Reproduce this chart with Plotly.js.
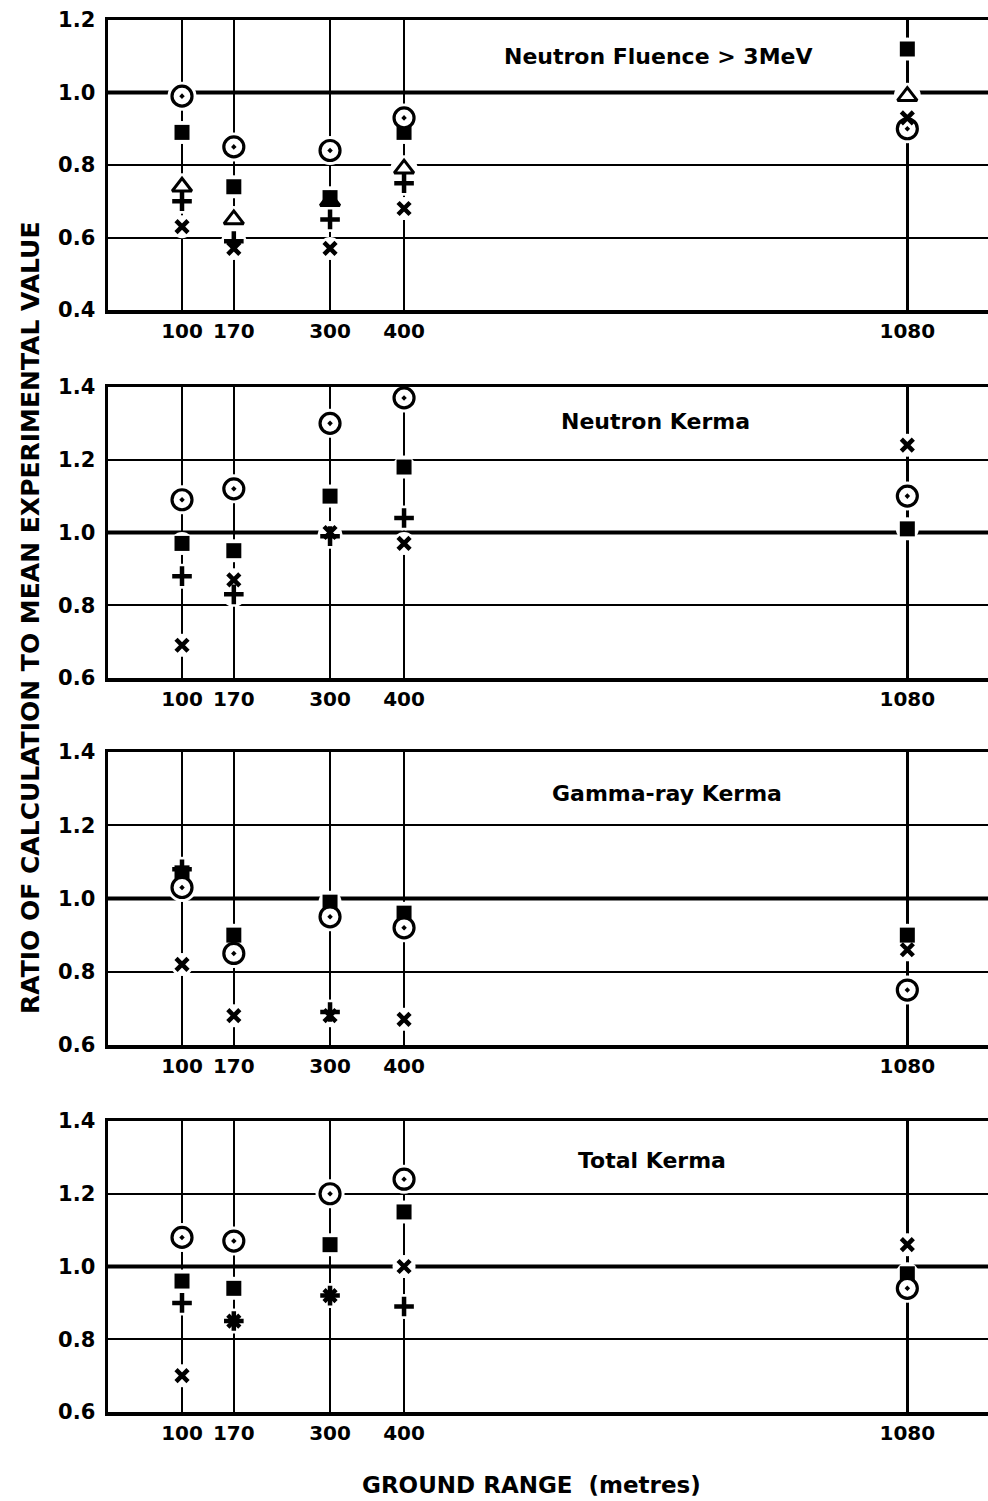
<!DOCTYPE html>
<html>
<head>
<meta charset="utf-8">
<script src="https://cdn.plot.ly/plotly-3.0.1.min.js"></script>
<style>html,body{margin:0;padding:0;background:#fff;}#chart{width:988px;height:1501px;}</style>
</head>
<body>
<div id="chart"></div>
<script>
// Ground range positions (metres)
const groundRange = [100, 170, 300, 400, 1080];
const groundRangeLabels = ['100', '170', '300', '400', '1080'];

const panelTitles = ['Neutron Fluence &gt; 3MeV', 'Neutron Kerma', 'Gamma-ray Kerma', 'Total Kerma'];

// Panel 1: Neutron fluence > 3 MeV
const fluenceCircle   = [0.99, 0.85, 0.84, 0.93, 0.90];
const fluenceSquare   = [0.89, 0.74, 0.71, 0.89, 1.12];
const fluenceTriangle = [0.74, 0.65, 0.70, 0.79, 0.99];
const fluencePlus     = [0.70, 0.59, 0.65, 0.75, null];
const fluenceCross    = [0.63, 0.57, 0.57, 0.68, 0.93];

// Panel 2: Neutron kerma
const nKermaCircle = [1.09, 1.12, 1.30, 1.37, 1.10];
const nKermaSquare = [0.97, 0.95, 1.10, 1.18, 1.01];
const nKermaPlus   = [0.88, 0.83, 0.99, 1.04, null];
const nKermaCross  = [0.69, 0.87, 1.00, 0.97, 1.24];

// Panel 3: Gamma-ray kerma
const gKermaCircle = [1.03, 0.85, 0.95, 0.92, 0.75];
const gKermaSquare = [1.07, 0.90, 0.99, 0.96, 0.90];
const gKermaPlus   = [1.08, 0.86, 0.69, 0.92, null];
const gKermaCross  = [0.82, 0.68, 0.68, 0.67, 0.86];

// Panel 4: Total kerma
const tKermaCircle = [1.08, 1.07, 1.20, 1.24, 0.94];
const tKermaSquare = [0.96, 0.94, 1.06, 1.15, 0.98];
const tKermaPlus   = [0.90, 0.85, 0.92, 0.89, null];
const tKermaCross  = [0.70, 0.85, 0.92, 1.00, 1.06];

const yRanges = [[0.4, 1.2], [0.6, 1.4], [0.6, 1.4], [0.6, 1.4]];

const panels = [
  {triangle: fluenceTriangle, square: fluenceSquare, plus: fluencePlus, circle: fluenceCircle, cross: fluenceCross},
  {square: nKermaSquare, plus: nKermaPlus, circle: nKermaCircle, cross: nKermaCross},
  {square: gKermaSquare, plus: gKermaPlus, circle: gKermaCircle, cross: gKermaCross},
  {square: tKermaSquare, plus: tKermaPlus, circle: tKermaCircle, cross: tKermaCross}
];

const styles = {
  triangle: {halo: 27, marker: {symbol: 'triangle-up', size: 17, color: 'white', line: {color: 'black', width: 3}}},
  square:   {halo: 23, marker: {symbol: 'square', size: 15, color: 'black', line: {width: 0}}},
  plus:     {halo: 25, marker: {symbol: 'cross-thin', size: 14, color: 'black', line: {color: 'black', width: 4.5}}},
  circle:   {halo: 29, marker: {symbol: 'circle-dot', size: 20, color: 'white', line: {color: 'black', width: 3.2}}},
  cross:    {halo: 23, marker: {symbol: 'x-thin', size: 12, color: 'black', line: {color: 'black', width: 4.5}}}
};
const order = ['triangle', 'square', 'plus', 'circle', 'cross'];

// pixel layout (top, bottom) of each plot area
const H = 1501;
const plotBands = [[20, 310], [387, 678], [752, 1045], [1121, 1412]];
const titleY = [57, 422, 793, 1160];
const titleX = [658, 655, 667, 652];

const FONT = 'DejaVu Sans, Verdana, sans-serif';
const traces = [];
const layout = {
  width: 988, height: 1501,
  margin: {l: 108, r: 0, t: 0, b: 0},
  showlegend: false,
  paper_bgcolor: 'white', plot_bgcolor: 'white',
  font: {family: FONT, size: 20, color: 'black', weight: 'bold'},
  shapes: [], annotations: []
};

panels.forEach((p, i) => {
  const n = i + 1;
  const xa = n === 1 ? 'x' : 'x' + n;
  const ya = n === 1 ? 'y' : 'y' + n;
  // white halos (break grid lines around symbols)
  order.forEach(k => {
    if (!p[k]) return;
    traces.push({type: 'scatter', mode: 'markers', x: groundRange, y: p[k], xaxis: xa, yaxis: ya,
      hoverinfo: 'skip', marker: {symbol: 'circle', size: styles[k].halo, color: 'white', line: {width: 0}}});
  });
  order.forEach(k => {
    if (!p[k]) return;
    traces.push({type: 'scatter', mode: 'markers', name: k, x: groundRange, y: p[k], xaxis: xa, yaxis: ya,
      marker: styles[k].marker});
  });
  const band = plotBands[i];
  layout['xaxis' + (n === 1 ? '' : n)] = {
    domain: [0, 1], range: [0, 1189], anchor: ya,
    tickmode: 'array', tickvals: groundRange, ticktext: groundRangeLabels,
    showgrid: true, gridcolor: 'black', gridwidth: 2.5,
    showline: true, linecolor: 'black', linewidth: 3.5, mirror: true,
    ticks: '', zeroline: false,
    tickfont: {family: FONT, size: 20, weight: 'bold', color: 'black'}
  };
  layout['yaxis' + (n === 1 ? '' : n)] = {
    domain: [1 - band[1] / H, 1 - band[0] / H], range: yRanges[i], anchor: xa,
    tick0: 0, dtick: 0.2, tickformat: '.1f',
    showgrid: true, gridcolor: 'black', gridwidth: 2,
    showline: true, linecolor: 'black', linewidth: 3.5,
    ticks: '', zeroline: false, ticklabelstandoff: 5,
    tickfont: {family: FONT, size: 21, weight: 'bold', color: 'black'}
  };
  layout.shapes.push({type: 'line', xref: xa + ' domain', yref: ya, x0: 0, x1: 1, y0: 1.0, y1: 1.0,
    layer: 'below', line: {color: 'black', width: 4}});
  layout.annotations.push({text: panelTitles[i], xref: 'paper', yref: 'paper',
    x: (titleX[i] - 108) / 880, y: 1 - titleY[i] / H, xanchor: 'center', yanchor: 'middle',
    showarrow: false, font: {family: FONT, size: 22, weight: 'bold'}});
});

layout.annotations.push({text: 'RATIO OF CALCULATION TO MEAN EXPERIMENTAL VALUE', xref: 'paper', yref: 'paper',
  x: (30 - 108) / 880, y: 1 - 618 / H, xanchor: 'center', yanchor: 'middle', textangle: -90,
  showarrow: false, font: {family: FONT, size: 25, weight: 'bold'}});
layout.annotations.push({text: 'GROUND RANGE&nbsp;&nbsp;(metres)', xref: 'paper', yref: 'paper',
  x: (531 - 108) / 880, y: 1 - 1485 / H, xanchor: 'center', yanchor: 'middle',
  showarrow: false, font: {family: FONT, size: 23, weight: 'bold'}});

Plotly.newPlot('chart', traces, layout, {staticPlot: true, displayModeBar: false});
</script>
</body>
</html>
